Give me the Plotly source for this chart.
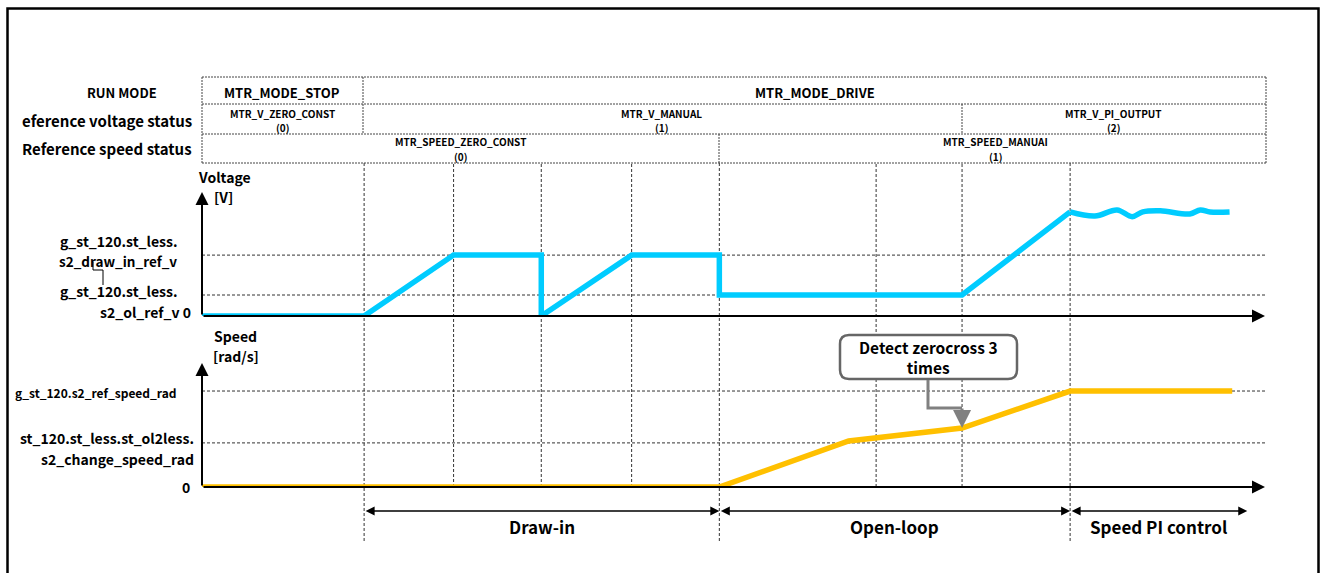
import plotly.graph_objects as go

W, H = 1324, 573
FONT = "Noto Sans CJK JP"

# ---------------- data ----------------
event_times = [1.83, 2.84, 3.83, 4.85, 5.84, 7.61, 8.58, 9.80]

time_v = [0, 1.83, 2.84, 3.83, 3.83, 4.85, 5.84, 5.84, 8.58, 9.80]
volt_v = [0, 0, 2.9, 2.9, 0, 2.9, 2.9, 1.0, 1.0, 4.96]
time_pi = [9.80, 10.08, 10.33, 10.50, 10.62, 10.82, 11.15, 11.27, 11.38, 11.60]
volt_pi = [4.96, 4.76, 5.05, 4.73, 4.96, 5.01, 4.86, 5.05, 4.95, 4.95]

time_s = [0, 5.84, 7.30, 8.58, 9.80, 11.63]
speed_s = [0, 0, 2.19, 2.81, 4.57, 4.57]

v_levels = [2.9, 1.0]          # draw_in_ref_v, ol_ref_v
s_levels = [4.57, 2.1]         # ref_speed_rad, change_speed_rad

row_labels = ["RUN MODE", "eference voltage status", "Reference speed status"]
run_modes = ["MTR_MODE_STOP", "MTR_MODE_DRIVE"]
v_status = [("MTR_V_ZERO_CONST", "(0)"), ("MTR_V_MANUAL", "(1)"), ("MTR_V_PI_OUTPUT", "(2)")]
s_status = [("MTR_SPEED_ZERO_CONST", "(0)"), ("MTR_SPEED_MANUAI", "(1)")]
phases = ["Draw-in", "Open-loop", "Speed PI control"]
callout_text = "Detect zerocross 3<br>times"

CYAN = "#00CCFF"
ORANGE = "#FFC000"
GRID = "#333333"


def PX(x):
    return x / W


def PY(y):
    return 1 - y / H


fig = go.Figure()

fig.add_trace(go.Scatter(x=time_v, y=volt_v, mode="lines", xaxis="x", yaxis="y",
                         line=dict(color=CYAN, width=5.5), hoverinfo="skip"))
fig.add_trace(go.Scatter(x=time_pi, y=volt_pi, mode="lines", xaxis="x", yaxis="y",
                         line=dict(color=CYAN, width=5.5, shape="spline", smoothing=1.0),
                         hoverinfo="skip"))
fig.add_trace(go.Scatter(x=time_s, y=speed_s, mode="lines", xaxis="x", yaxis="y2",
                         line=dict(color=ORANGE, width=5.5), hoverinfo="skip"))

shapes = []
annotations = []

# outer frame
shapes.append(dict(type="path", xref="paper", yref="paper",
                   path=f"M {PX(7.5)} {PY(590)} L {PX(7.5)} {PY(8.5)} L {PX(1318.5)} {PY(8.5)} L {PX(1318.5)} {PY(590)}",
                   line=dict(color="black", width=2.5)))

# ---------- status table ----------
tl = dict(color="#444444", width=1, dash="2px,1px")
for y in [77, 104, 134, 163]:
    shapes.append(dict(type="line", xref="paper", yref="paper", x0=PX(202), x1=PX(1266),
                       y0=PY(y), y1=PY(y), line=tl))
for x in [202, 1266]:
    shapes.append(dict(type="line", xref="paper", yref="paper", x0=PX(x), x1=PX(x),
                       y0=PY(77), y1=PY(163), line=tl))
for x, y0, y1 in [(363, 77, 134), (962, 104, 134), (719, 134, 163)]:
    shapes.append(dict(type="line", xref="paper", yref="paper", x0=PX(x), x1=PX(x),
                       y0=PY(y0), y1=PY(y1), line=tl))


def text(x, y, s, size=13, xanchor="center", bold=True, color="black", family=FONT):
    annotations.append(dict(xref="paper", yref="paper", x=PX(x), y=PY(y),
                            text=f"<b>{s}</b>" if bold else s, showarrow=False,
                            xanchor=xanchor, yanchor="middle",
                            font=dict(family=family, size=size, color=color)))


text(122, 92, row_labels[0], 13)
text(194, 120, row_labels[1], 15, "right")
text(194, 148, row_labels[2], 15, "right")

text(282, 92, run_modes[0], 13)
text(815, 92, run_modes[1], 13)

for (a, b), cx in zip(v_status, [282, 661, 1113]):
    text(cx, 113, a, 10)
    text(cx, 127, b, 10)
for (a, b), cx in zip(s_status, [460, 995]):
    text(cx, 142, a, 10)
    text(cx, 156, b, 10)

# ---------- vertical event lines ----------
gl = dict(color=GRID, width=1, dash="3px,2px")
long_lines = {event_times[0], event_times[4], event_times[7]}
for t in event_times:
    y_bottom = 541 if t in long_lines else 487
    shapes.append(dict(type="line", xref="x", yref="paper", x0=t, x1=t,
                       y0=PY(y_bottom), y1=PY(163), line=gl, layer="below"))

# ---------- horizontal reference lines ----------
for lv in v_levels:
    shapes.append(dict(type="line", xref="x", yref="y", x0=0, x1=12, y0=lv, y1=lv,
                       line=gl, layer="below"))
for lv in s_levels:
    shapes.append(dict(type="line", xref="x", yref="y2", x0=0, x1=12, y0=lv, y1=lv,
                       line=gl, layer="below"))

# ---------- axes arrows ----------
def arrow(x, y, ax, ay, yref, width=2, head=2, size=1.3, color="black"):
    annotations.append(dict(x=x, y=y, ax=ax, ay=ay, xref="x", yref=yref,
                            axref="x", ayref=yref, showarrow=True, text="",
                            arrowhead=head, arrowsize=size, arrowwidth=width,
                            arrowcolor=color, standoff=0))


arrow(12, 0, 0, 0, "y")
arrow(0, 5.9, 0, 0, "y")
arrow(12, 0, 0, 0, "y2")
arrow(0, 5.9, 0, 0, "y2")

# ---------- phase arrows ----------
phase_bounds = [(event_times[0], event_times[4]), (event_times[4], event_times[7]),
                (event_times[7], 11.8)]
for (a, b), name in zip(phase_bounds, phases):
    annotations.append(dict(x=b, y=PY(511), ax=a, ay=0, xref="x", yref="paper",
                            axref="x", ayref="pixel", showarrow=True, text="",
                            arrowhead=2, arrowsize=1.2, arrowwidth=1.5, arrowcolor="black",
                            arrowside="end+start", startarrowhead=2, startarrowsize=1.2,
                            standoff=0, startstandoff=0))
    annotations.append(dict(x=(a + b) / 2, y=PY(526), xref="x", yref="paper",
                            text=f"<b>{name}</b>", showarrow=False, yanchor="middle",
                            font=dict(family=FONT, size=17, color="black")))

# ---------- axis titles / level labels ----------
text(224, 177, "Voltage", 14)
text(212, 197, "[V]", 14, "left")
text(179, 241, "g_st_120.st_less.", 14, "right")
text(179, 261, "s2_draw_in_ref_v", 13.5, "right")
text(179, 291, "g_st_120.st_less.", 14, "right")
text(193, 312, "s2_ol_ref_v 0", 14, "right")
shapes.append(dict(type="path", xref="paper", yref="paper",
                   path=f"M {PX(93)} {PY(262)} L {PX(93)} {PY(270)} L {PX(103)} {PY(270)} L {PX(103)} {PY(285)}",
                   line=dict(color="black", width=1)))

text(236, 336, "Speed", 14)
text(236, 356, "[rad/s]", 14)
text(179, 392, "g_st_120.s2_ref_speed_rad", 12, "right")
text(196, 438, "st_120.st_less.st_ol2less.", 14, "right")
text(196, 459, "s2_change_speed_rad", 14, "right")
text(192, 487, "0", 14, "right")

# ---------- callout ----------
bx0, bx1, by0, by1, r = 840, 1017, 335, 379, 9
path = (f"M {PX(bx0 + r)} {PY(by0)} L {PX(bx1 - r)} {PY(by0)} "
        f"Q {PX(bx1)} {PY(by0)} {PX(bx1)} {PY(by0 + r)} L {PX(bx1)} {PY(by1 - r)} "
        f"Q {PX(bx1)} {PY(by1)} {PX(bx1 - r)} {PY(by1)} L {PX(bx0 + r)} {PY(by1)} "
        f"Q {PX(bx0)} {PY(by1)} {PX(bx0)} {PY(by1 - r)} L {PX(bx0)} {PY(by0 + r)} "
        f"Q {PX(bx0)} {PY(by0)} {PX(bx0 + r)} {PY(by0)} Z")
shapes.append(dict(type="path", xref="paper", yref="paper", path=path,
                   line=dict(color="#666666", width=2.5), fillcolor="white", layer="above"))
text(928, 357, callout_text, 15.5)
shapes.append(dict(type="path", xref="paper", yref="paper",
                   path=f"M {PX(928)} {PY(380)} L {PX(928)} {PY(408)} L {PX(962)} {PY(408)}",
                   line=dict(color="#808080", width=3)))
annotations.append(dict(x=event_times[6], y=speed_s[3], xref="x", yref="y2",
                        ax=0, ay=-21, showarrow=True, text="", arrowhead=2, arrowsize=1.2,
                        arrowwidth=3, arrowcolor="#808080", standoff=0))

ax_common = dict(visible=False, showgrid=False, zeroline=False, fixedrange=True)
fig.update_layout(
    width=W, height=H, autosize=False,
    margin=dict(l=0, r=0, t=0, b=0),
    paper_bgcolor="white", plot_bgcolor="rgba(0,0,0,0)",
    showlegend=False,
    xaxis=dict(domain=[PX(202), PX(1265)], range=[0, 12], anchor="y", **ax_common),
    yaxis=dict(domain=[PY(316), PY(190)], range=[0, 6], anchor="x", **ax_common),
    yaxis2=dict(domain=[PY(487), PY(361)], range=[0, 6], anchor="x", **ax_common),
    shapes=shapes,
    annotations=annotations,
)

fig.write_html("out.html", config={"displayModeBar": False},
               post_script="document.body.style.margin='0px';")
